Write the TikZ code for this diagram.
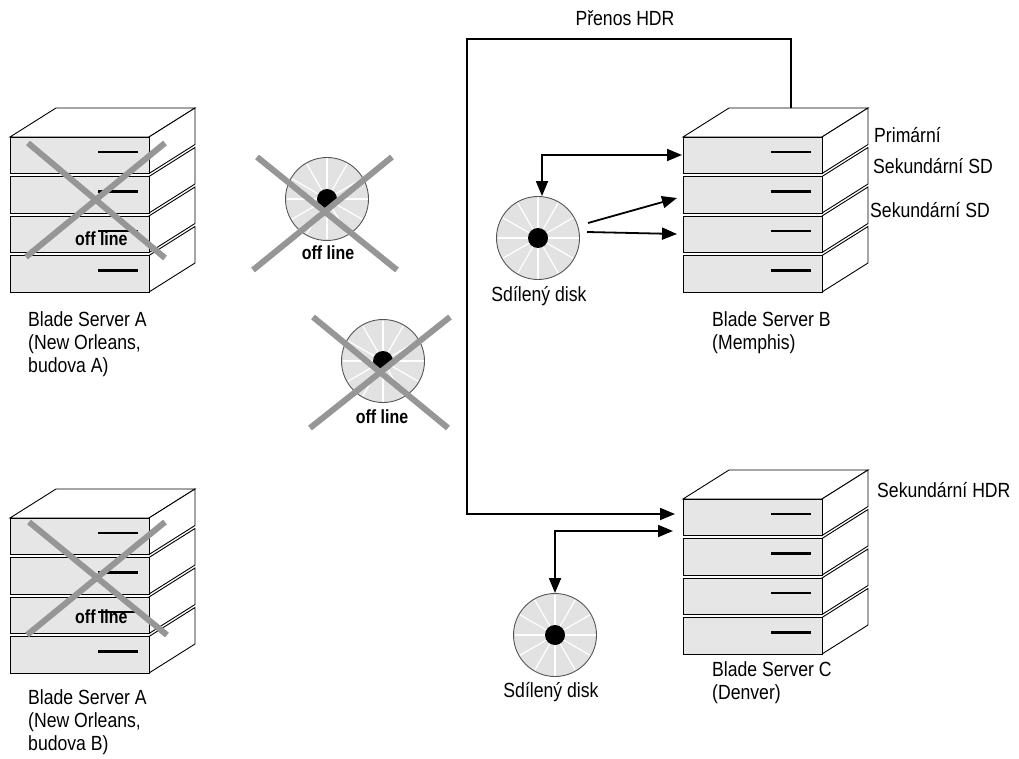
\documentclass[tikz,border=0pt]{standalone}
\usepackage{fontspec}
\setmainfont{Liberation Sans}[FakeStretch=0.86]
\newfontfamily\offfont{Liberation Sans}[FakeStretch=0.84]
\usetikzlibrary{arrows.meta,calc}

\definecolor{slabgray}{HTML}{E6E6E7}
\definecolor{diskgray}{HTML}{E2E2E2}
\definecolor{diskrim}{HTML}{555555}
\definecolor{xgray}{HTML}{969696}

\tikzset{
  slabfront/.style={fill=slabgray, draw=black, line width=0.9pt},
  slabside/.style={fill=white, draw=black, line width=0.9pt},
  slabmark/.style={line width=2.2pt},
  disk/.style={circle, minimum size=83pt, inner sep=0pt, fill=diskgray, draw=diskrim, line width=0.9pt},
  xmark/.style={draw=xgray, line width=6pt},
  wire/.style={line width=1.8pt},
  tip/.tip={Triangle[length=15pt,width=12pt]},
  link/.style={wire, -tip},
  twolink/.style={wire, tip-tip},
  lbl/.style={inner sep=0pt, align=left, font=\fontsize{20.5}{23}\selectfont},
  offlbl/.style={inner sep=0pt, font=\offfont\bfseries\fontsize{19}{20}\selectfont},
}

% a blade chassis: #1 name, (#2,#3) top-left corner of the front face
\newcommand{\bladestack}[3]{%
  \begin{scope}[shift={(#2,#3)}]
    \draw[slabside] (0,0) -- (46,-29) -- (185,-29) -- (139,0) -- cycle;
    \foreach \i in {0,1,2,3} {
      \pgfmathsetmacro\slabtop{\i*39.5}
      \draw[slabside] (139,\slabtop) -- (185,\slabtop-29) -- (185,\slabtop+7.5) -- (139,\slabtop+36.5) -- cycle;
      \draw[slabfront] (0,\slabtop) rectangle (139,\slabtop+36.5);
      \draw[slabmark] (88,\slabtop+15) -- (128,\slabtop+15);
    }
    \coordinate (#1-front) at (0,0);
  \end{scope}}

% a shared disk: #1 name, (#2,#3) centre
\newcommand{\shareddisk}[3]{%
  \node[disk] (#1) at (#2,#3) {};
  \foreach \a in {0,30,...,330}
    \draw[white, line width=1.2pt] (#1.center) -- ++(\a:40.5);
  \fill[black] (#1.center) circle (10);
}

\begin{document}
\begin{tikzpicture}[x=1pt,y=-1pt]
  \useasboundingbox (0,0) rectangle (1019,759);

  % chassis
  \bladestack{srvA}{10}{137}
  \bladestack{srvAb}{10}{518}
  \bladestack{srvB}{683}{137}
  \bladestack{srvC}{683}{499}

  % disks
  \shareddisk{off1}{327}{199}
  \shareddisk{off2}{383}{361}
  \shareddisk{diskB}{538}{238}
  \shareddisk{diskC}{555}{635}

  % offline markers
  \node[offlbl, anchor=base west] (offA) at (75,245) {off line};
  \node[offlbl, anchor=base west] (offAb) at (75,623) {off line};
  \node[offlbl, anchor=base] (offD1) at (328,259) {off line};
  \node[offlbl, anchor=base] (offD2) at (382,423) {off line};

  \draw[xmark] (28,143) -- (165,258);
  \draw[xmark] (165,143) -- (26,257);
  \draw[xmark] (29,522) -- (167,635);
  \draw[xmark] (165,522) -- (27,635);
  \draw[xmark] (257,157) -- (397,270);
  \draw[xmark] (392,157) -- (253,270);
  \draw[xmark] (313,317) -- (448,428);
  \draw[xmark] (450,317) -- (310,428);

  % connection points
  \coordinate (hdrStart) at ($(srvB-front)+(108,-29)$);
  \coordinate (hdrCorner) at (467,39);
  \coordinate (C-in1) at (675,514);
  \coordinate (C-in2) at (673,531);
  \coordinate (jC) at (555,531);
  \coordinate (B-in1) at (682,155);
  \coordinate (jB) at (542,155);
  \coordinate (dB-out1) at (588,223);
  \coordinate (B-in2) at (677,198);
  \coordinate (dB-out2) at (587,232);
  \coordinate (B-in3) at (677,234);

  % HDR replication
  \draw[link] (hdrStart) |- (hdrCorner) |- (C-in1);
  \node[lbl, anchor=base] (hdrlbl) at (625,26) {Přenos HDR};

  % shared disk links
  \draw[twolink] (jB |- diskB.north) |- (B-in1);
  \draw[link] (dB-out1) -- (B-in2);
  \draw[link] (dB-out2) -- (B-in3);
  \draw[twolink] (jC |- diskC.north) |- (C-in2);

  % labels
  \node[lbl, anchor=north west] (labA) at (28,311) {Blade Server A\\(New Orleans,\\budova A)};
  \node[lbl, anchor=north west] (labAb) at (28,689) {Blade Server A\\(New Orleans,\\budova B)};
  \node[lbl, anchor=north west] (labB) at (712,311) {Blade Server B\\(Memphis)};
  \node[lbl, anchor=north west] (labC) at (712,661) {Blade Server C\\(Denver)};
  \node[lbl, anchor=base] (labDB) at (539,301) {Sdílený disk};
  \node[lbl, anchor=base] (labDC) at (551,697) {Sdílený disk};

  \node[lbl, anchor=base west] (rolP) at (874,143) {Primární};
  \node[lbl, anchor=base west] (rolS1) at (873,174) {Sekundární SD};
  \node[lbl, anchor=base west] (rolS2) at (870,218) {Sekundární SD};
  \node[lbl, anchor=base west] (rolH) at (877,497) {Sekundární HDR};
\end{tikzpicture}
\end{document}
